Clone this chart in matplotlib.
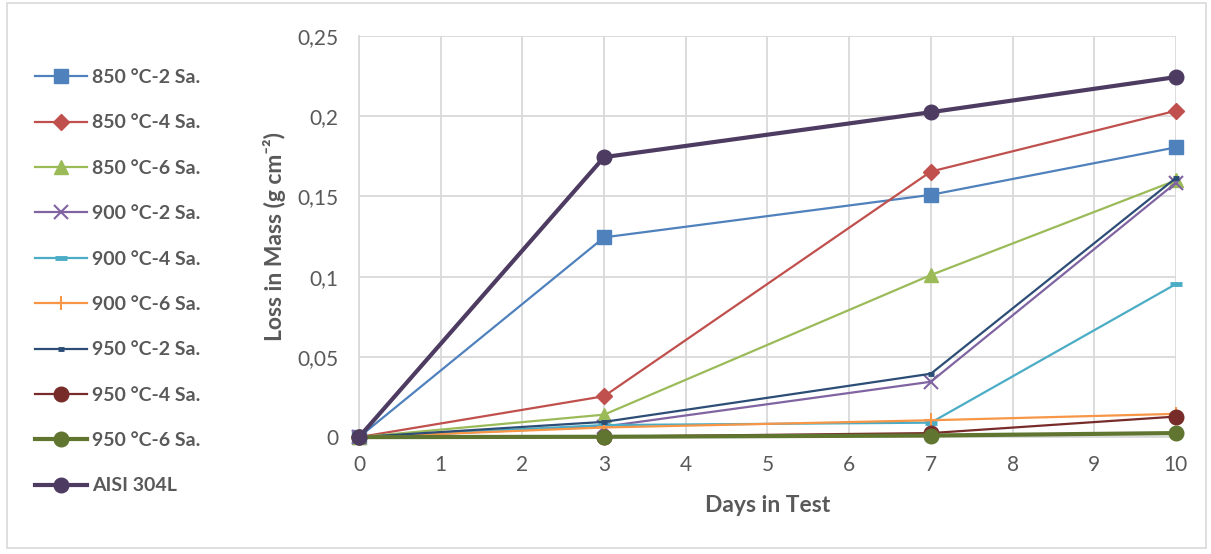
import matplotlib
matplotlib.use("Agg")
import matplotlib.pyplot as plt
from matplotlib.patches import Rectangle

days = [0, 3, 7, 10]
labels = ["850 °C-2 Sa.", "850 °C-4 Sa.", "850 °C-6 Sa.", "900 °C-2 Sa.", "900 °C-4 Sa.",
          "900 °C-6 Sa.", "950 °C-2 Sa.", "950 °C-4 Sa.", "950 °C-6 Sa.", "AISI 304L"]
s850_2 = [0, 0.1245, 0.151, 0.1806]
s850_4 = [0, 0.0255, 0.1655, 0.2034]
s850_6 = [0, 0.0140, 0.101, 0.1600]
s900_2 = [0, 0.0065, 0.0345, 0.1585]
s900_4 = [0, 0.0075, 0.0090, 0.0954]
s900_6 = [0, 0.0060, 0.0105, 0.0145]
s950_2 = [0, 0.0095, 0.0395, 0.1615]
s950_4 = [0, 0.0003, 0.0025, 0.0128]
s950_6 = [0, 0.0002, 0.0010, 0.0025]
aisi = [0, 0.1745, 0.2025, 0.2244]
series = [s850_2, s850_4, s850_6, s900_2, s900_4, s900_6, s950_2, s950_4, s950_6, aisi]
xticks = list(range(0, 11))
yticks = [0, 0.05, 0.1, 0.15, 0.2, 0.25]
ytick_labels = ["0", "0,05", "0,1", "0,15", "0,2", "0,25"]

colors = ["#4F81BD", "#C0504D", "#9BBB59", "#8064A2", "#4BACC6",
          "#F79646", "#2C4D75", "#772C2A", "#5F7530", "#4D3B62"]
markers = ["s", "D", "^", "x", "_", "+", "_", "o", "o", "o"]
msizes = [9.5, 8, 9.5, 9.5, 9, 10, 5, 10.5, 10.5, 10.5]
mews = [1, 1, 1, 1.5, 3.5, 1.5, 3.5, 1, 1, 1]
lws = [1.6, 1.6, 1.6, 1.6, 1.6, 1.6, 1.6, 1.6, 3.0, 3.0]

plt.rcParams['font.family'] = ['Lato', 'DejaVu Sans']
txt = "#595959"

fig = plt.figure(figsize=(12.11, 5.54), dpi=100)
ax = fig.add_axes([0.2965, 0.211, 0.6745, 0.724])

for i, (lab, ys) in enumerate(zip(labels, series)):
    ax.plot(days, ys, color=colors[i], lw=lws[i], marker=markers[i], ms=msizes[i],
            mew=mews[i], mfc=colors[i], mec=colors[i], label=lab, zorder=3 + i * 0.1,
            solid_joinstyle='round')

ax.set_xlim(0, 10)
ax.set_ylim(0, 0.25)
ax.set_xticks(xticks)
ax.set_yticks(yticks)
ax.set_yticklabels(ytick_labels)
ax.grid(True, color="#D9D9D9", lw=1.3)
ax.set_axisbelow(True)
for sp in ["top", "right"]:
    ax.spines[sp].set_visible(False)
for sp in ["left", "bottom"]:
    ax.spines[sp].set_color("#D9D9D9")
    ax.spines[sp].set_linewidth(1.3)
ax.tick_params(length=0, labelsize=15, colors=txt)
ax.tick_params(axis='x', pad=13)
ax.tick_params(axis='y', pad=15)
for line in ax.get_lines():
    line.set_clip_on(False)

ax.set_xlabel("Days in Test", fontsize=16.5, fontweight="bold", color=txt, labelpad=14)
ax.set_ylabel("Loss in Mass (g cm⁻²)", fontsize=16.5, fontweight="bold", color=txt, labelpad=8)

handles, labs = ax.get_legend_handles_labels()
leg = fig.legend(handles, labs, loc="upper left", bbox_to_anchor=(0.029, 0.8755),
                 frameon=False, fontsize=14, labelspacing=1.46, handlelength=2.67,
                 handletextpad=0.26, borderaxespad=0, borderpad=0)
for t in leg.get_texts():
    t.set_color(txt)
    t.set_fontweight("bold")

fig.patches.append(Rectangle((0.006, 0.01), 0.99, 0.985, transform=fig.transFigure,
                             fill=False, ec="#D9D9D9", lw=1.2))

fig.savefig("out.png", dpi=100)
